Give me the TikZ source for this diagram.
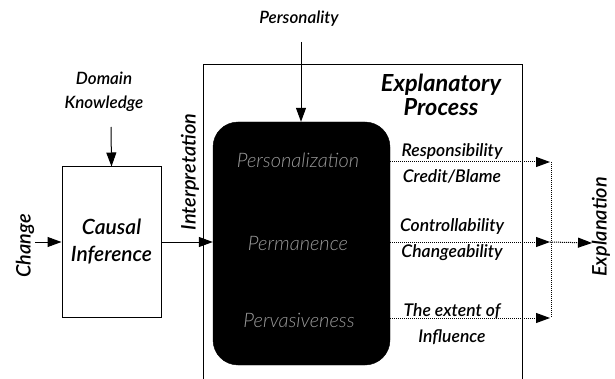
\documentclass[tikz,border=0pt]{standalone}
\usepackage{fontspec}
\setmainfont{Lato}
\IfFontExistsTF{Lato Semibold Italic}{\newfontface\semit{Lato Semibold Italic}}{\newfontface\semit{Lato Italic}}
\IfFontExistsTF{Lato Light Italic}{\newfontface\lightit{Lato Light Italic}}{\newfontface\lightit{Lato Italic}}
\newfontface\boldit{Lato Bold Italic}
\usetikzlibrary{arrows.meta}
\begin{document}
\begin{tikzpicture}[x=1pt,y=-1pt,
  >={Triangle[length=14pt,width=10pt]},
  line/.style={line width=1pt},
  dotline/.style={line width=1pt, densely dotted},
  lbl/.style={font=\fontsize{17}{24}\selectfont\semit, align=center, inner sep=0pt},
  side/.style={font=\fontsize{17.5}{26}\selectfont\semit, align=center, inner sep=0pt},
  rot/.style={font=\fontsize{20}{22}\selectfont\semit, rotate=90, inner sep=0pt},
  inner/.style={font=\fontsize{20}{22}\selectfont\lightit, text=black!40, inner sep=0pt},
  cbox/.style={draw, line width=1pt, minimum width=99pt, minimum height=150pt, inner sep=0pt, align=center, font=\fontsize{21}{27}\selectfont\semit},
  bbox/.style={fill=black, draw=black, rounded corners=25pt, minimum width=177pt, minimum height=243pt, inner sep=0pt}
]
\useasboundingbox (0,0) rectangle (615,379);
% outer explanatory box (open at bottom)
\coordinate (oBL) at (203,379);
\coordinate (oTL) at (203,65);
\coordinate (oTR) at (522,65);
\coordinate (oBR) at (522,379);
\draw[line] (oBL) -- (oTL) -- (oTR) -- (oBR);
\node[font=\fontsize{23.5}{24}\selectfont\boldit, align=center, inner sep=0pt] (ep) at (441,95) {Explanatory\\Process};

% black box
\node[bbox] (bb) at (301.5,243.5) {};
\node[inner] (p1) at (298,160) {Personalization};
\node[inner] (p2) at (298,243) {Permanence};
\node[inner] (p3) at (299,320) {Pervasiveness};

% personality
\node[lbl] (pers) at (299,19) {Personality};
\coordinate (persA) at (301,42);
\draw[line,->] (persA) -- (bb.north -| persA);

% causal inference
\node[cbox] (ci) at (111.5,242) {Causal\\Inference};
\node[lbl] (dk) at (104,92) {Domain\\Knowledge};
\coordinate (dkA) at (111,127);
\draw[line,->] (dkA) -- (ci.north);

% change
\coordinate (chg) at (35,242);
\draw[line,->] (chg) -- (ci.west);
\node[rot] (chL) at (25,246) {Change};

% interpretation
\draw[line,->] (ci.east) -- (ci.east -| bb.west);
\node[rot] (intL) at (190,172) {Interpretation};

% right outputs
\coordinate (r1) at (550,162);
\coordinate (r2) at (550,242);
\coordinate (r3) at (550,318);
\coordinate (v1) at (551,162);
\coordinate (v3) at (551,318);
\coordinate (out) at (592,243);
\draw[dotline,->] (bb.east |- r1) -- (r1);
\draw[dotline,->] (bb.east |- r2) -- (r2);
\draw[dotline,->] (bb.east |- r3) -- (r3);
\draw[dotline] (v1) -- (v3);
\draw[dotline,->] (r2) -- (out);
\node[rot] (expL) at (601,227) {Explanation};

\node[side] (s1) at (452,163) {Responsibility\\Credit/Blame};
\node[side] (s2) at (452,240) {Controllability\\Changeability};
\node[side] (s3) at (452,324) {The extent of\\Influence};
\end{tikzpicture}
\end{document}
